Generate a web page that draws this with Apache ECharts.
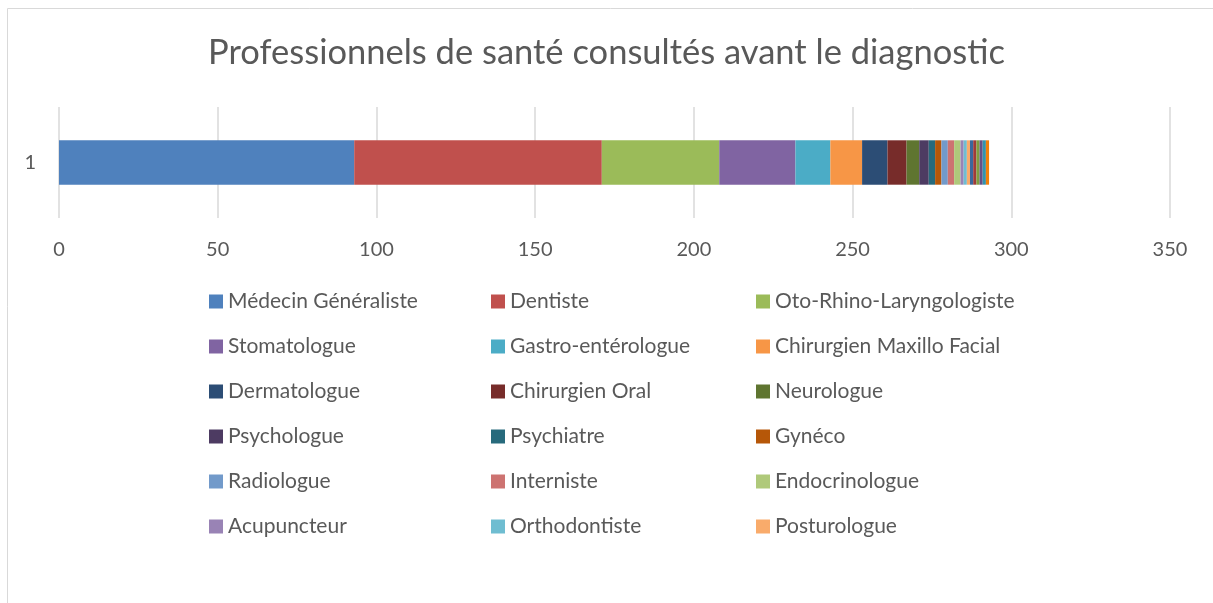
<!DOCTYPE html>
<html><head><meta charset="utf-8">
<script src="https://cdn.jsdelivr.net/npm/echarts@6/dist/echarts.min.js"></script>
<style>html,body{margin:0;padding:0;background:#fff}#c{width:1213px;height:603px}</style>
</head><body><div id="c"></div>
<script>
const categories = ['1'];
const seriesNames = [
  'Médecin Généraliste','Dentiste','Oto-Rhino-Laryngologiste',
  'Stomatologue','Gastro-entérologue','Chirurgien Maxillo Facial',
  'Dermatologue','Chirurgien Oral','Neurologue',
  'Psychologue','Psychiatre','Gynéco',
  'Radiologue','Interniste','Endocrinologue',
  'Acupuncteur','Orthodontiste','Posturologue',
  'Série 19','Série 20','Série 21','Série 22','Série 23','Série 24'
];
const seriesValues = [93,78,37,24,11,10,8,6,4,3,2,2,2,2,2,1,1,1,1,1,1,1,1,1];
const seriesColors = [
  '#4F81BD','#C0504D','#9BBB59','#8064A2','#4BACC6','#F79646',
  '#2C4D75','#772C2A','#5F7530','#4D3B62','#276A7C','#B65708',
  '#729ACA','#CD7371','#AFC97A','#9983B5','#6FBDD1','#F9AB6B',
  '#3A679C','#9F3B38','#7E9D40','#664F85','#3294AD','#F07F09'
];
const xTicks = {min:0, max:350, interval:50};
const legendCols = [
  ['Médecin Généraliste','Stomatologue','Dermatologue','Psychologue','Radiologue','Acupuncteur'],
  ['Dentiste','Gastro-entérologue','Chirurgien Oral','Psychiatre','Interniste','Orthodontiste'],
  ['Oto-Rhino-Laryngologiste','Chirurgien Maxillo Facial','Neurologue','Gynéco','Endocrinologue','Posturologue']
];
const FONT = 'Lato';
const TXT = '#595959';
const chart = echarts.init(document.getElementById('c'));
const legendLefts = [204, 486, 751];
chart.setOption({
  animation:false,
  color: seriesColors,
  title:{text:'Professionnels de santé consultés avant le diagnostic', left:'center', top:30,
    textStyle:{fontFamily:FONT, fontSize:34.5, fontWeight:'normal', color:TXT}},
  graphic:[{type:'rect', shape:{x:7.5,y:8.5,width:1230,height:620}, style:{fill:'none', stroke:'#D9D9D9', lineWidth:1}, silent:true}],
  grid:{left:59, right:43, top:107, bottom:385},
  xAxis:{type:'value', min:xTicks.min, max:xTicks.max, interval:xTicks.interval,
    axisLine:{show:false}, axisTick:{show:false},
    splitLine:{lineStyle:{color:'#D9D9D9', width:1.5}},
    axisLabel:{fontFamily:FONT, fontSize:20, color:TXT, margin:22}},
  yAxis:{type:'category', data:categories, axisLine:{show:false}, axisTick:{show:false},
    axisLabel:{fontFamily:FONT, fontSize:20, color:TXT, margin:23}},
  legend: legendCols.map((col,i)=>({
    data: col, orient:'vertical', left: legendLefts[i], top: 286, itemGap: 24,
    itemWidth:14, itemHeight:14, icon:'rect',
    textStyle:{fontFamily:FONT, fontSize:21, color:TXT}
  })),
  series: seriesNames.map((n,i)=>({
    name:n, type:'bar', stack:'total', barWidth:'40%',
    data: [seriesValues[i]], itemStyle:{color:seriesColors[i]}
  }))
});
</script></body></html>
